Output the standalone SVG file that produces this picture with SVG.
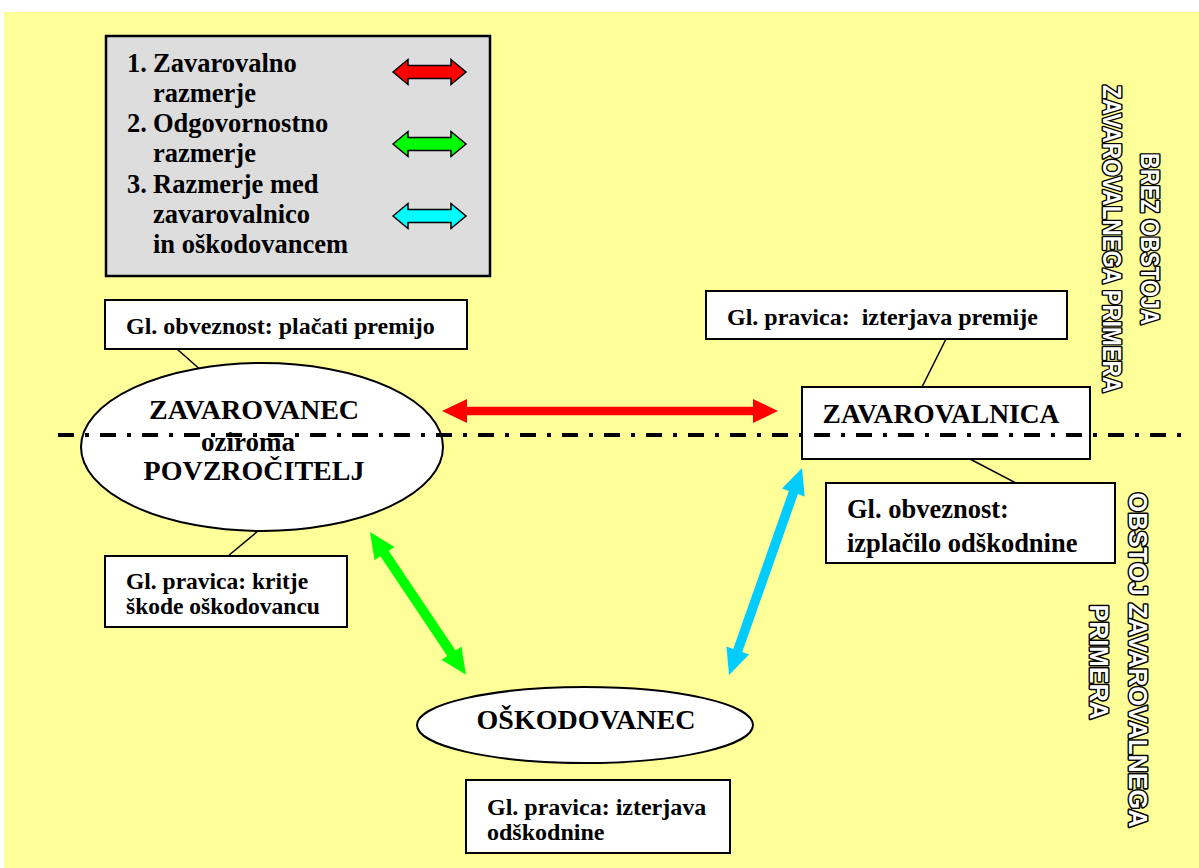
<svg xmlns="http://www.w3.org/2000/svg" width="1199" height="868" viewBox="0 0 1199 868">
<style>
.t{font-family:"Liberation Serif","Times New Roman",serif;font-weight:bold;fill:#000}
.box{fill:#fff;stroke:#000;stroke-width:2}
.ell{fill:#fff;stroke:#000;stroke-width:2}
.lead{stroke:#000;stroke-width:1.5;fill:none}
.vt{font-family:"Liberation Sans",Arial,sans-serif;font-weight:bold;font-size:25px;fill:#fff;stroke:#000;stroke-width:3;paint-order:stroke;stroke-linejoin:round;text-anchor:middle}
</style>
<rect x="0" y="0" width="1199" height="868" fill="#fff"/>
<rect x="4" y="12" width="1195" height="856" fill="#FFFF99"/>

<g id="legend">
<rect x="106" y="36" width="384" height="240" fill="#DDDDDD" stroke="#000" stroke-width="2.5"/>
<g class="t" font-size="26.5">
<text x="127" y="72">1.</text><text x="153" y="72">Zavarovalno</text>
<text x="153" y="102">razmerje</text>
<text x="127" y="132">2.</text><text x="153" y="132">Odgovornostno</text>
<text x="153" y="162">razmerje</text>
<text x="127" y="193">3.</text><text x="153" y="193">Razmerje med</text>
<text x="153" y="223">zavarovalnico</text>
<text x="153" y="253">in oškodovancem</text>
</g>
<polygon points="393,72 408,59.5 408,65.5 451,65.5 451,59.5 466,72 451,84.5 451,78.5 408,78.5 408,84.5" fill="#FF0000" stroke="#000" stroke-width="1.5"/>
<polygon points="393,144 408,131.5 408,137.5 451,137.5 451,131.5 466,144 451,156.5 451,150.5 408,150.5 408,156.5" fill="#00FF00" stroke="#000" stroke-width="1.5"/>
<polygon points="393,216 408,203.5 408,209.5 451,209.5 451,203.5 466,216 451,228.5 451,222.5 408,222.5 408,228.5" fill="#00FFFF" stroke="#000" stroke-width="1.5"/>
</g>

<g id="connectors">
<line class="lead" x1="177" y1="349" x2="203" y2="372"/>
<line class="lead" x1="258" y1="531" x2="228" y2="556"/>
<line class="lead" x1="946" y1="339" x2="922" y2="387"/>
<line class="lead" x1="970" y1="459" x2="1018" y2="484"/>
<g transform="translate(442,411)"><path d="M0,0 L25,-12 L25,-4.2 L311,-4.2 L311,-12 L336,0 L311,12 L311,4.2 L25,4.2 L25,12 Z" fill="#FF0000"/></g>
<g transform="translate(370,532) rotate(56.1)"><path d="M0,0 L26,-12 L26,-5 L146,-5 L146,-12 L172,0 L146,12 L146,5 L26,5 L26,12 Z" fill="#00FF00"/></g>
<g transform="translate(802,468) rotate(109.4)"><path d="M0,0 L26,-12 L26,-4.8 L193.5,-4.8 L193.5,-12 L219.5,0 L193.5,12 L193.5,4.8 L26,4.8 L26,12 Z" fill="#00CCFF"/></g>
</g>

<g id="node-obveznost-premija">
<rect class="box" x="105" y="300" width="362" height="49"/>
<text class="t" x="126" y="334" font-size="24">Gl. obveznost: plačati premijo</text>
</g>

<g id="node-zavarovanec">
<ellipse class="ell" cx="262" cy="447" rx="181" ry="84"/>
</g>

<g id="node-pravica-kritje">
<rect class="box" x="105" y="556" width="242" height="71"/>
<text class="t" x="126" y="589" font-size="23.5">Gl. pravica: kritje</text>
<text class="t" x="126" y="614" font-size="23.5">škode oškodovancu</text>
</g>

<g id="node-pravica-premija">
<rect class="box" x="706" y="291" width="361" height="48"/>
<text class="t" x="727" y="325" font-size="24" xml:space="preserve">Gl. pravica:  izterjava premije</text>
</g>

<g id="node-zavarovalnica">
<rect class="box" x="802" y="387" width="288" height="72"/>
</g>

<g id="node-obveznost-odskodnina">
<rect class="box" x="826" y="483" width="289" height="80"/>
<text class="t" x="847" y="518" font-size="26.5">Gl. obveznost:</text>
<text class="t" x="847" y="552" font-size="26.5">izplačilo odškodnine</text>
</g>

<g id="node-oskodovanec">
<ellipse class="ell" cx="585" cy="725" rx="168" ry="38"/>
<text class="t" x="586" y="729" font-size="28" text-anchor="middle">OŠKODOVANEC</text>
</g>

<g id="node-pravica-odskodnina">
<rect class="box" x="466" y="780" width="264" height="73"/>
<text class="t" x="487" y="815" font-size="24">Gl. pravica: izterjava</text>
<text class="t" x="487" y="840" font-size="24">odškodnine</text>
</g>

<g id="divider">
<line x1="58" y1="435" x2="1182" y2="435" stroke="#000" stroke-width="4" stroke-dasharray="16 11 4 11"/>
</g>

<g id="labels">
<text class="t" x="254" y="419" font-size="28" text-anchor="middle">ZAVAROVANEC</text>
<text class="t" x="248" y="451" font-size="27" text-anchor="middle">oziroma</text>
<text class="t" x="254" y="480" font-size="28" text-anchor="middle">POVZROČITELJ</text>
<text class="t" x="941" y="423" font-size="27.5" text-anchor="middle">ZAVAROVALNICA</text>
</g>

<g id="side-labels">
<text class="vt" transform="translate(1141,239) rotate(90)" textLength="172" lengthAdjust="spacingAndGlyphs">BREZ OBSTOJA</text>
<text class="vt" transform="translate(1103,239) rotate(90)" textLength="308" lengthAdjust="spacingAndGlyphs">ZAVAROVALNEGA PRIMERA</text>
<text class="vt" transform="translate(1129,660) rotate(90)" textLength="335" lengthAdjust="spacingAndGlyphs">OBSTOJ ZAVAROVALNEGA</text>
<text class="vt" transform="translate(1090,662) rotate(90)" textLength="115" lengthAdjust="spacingAndGlyphs">PRIMERA</text>
</g>
</svg>
